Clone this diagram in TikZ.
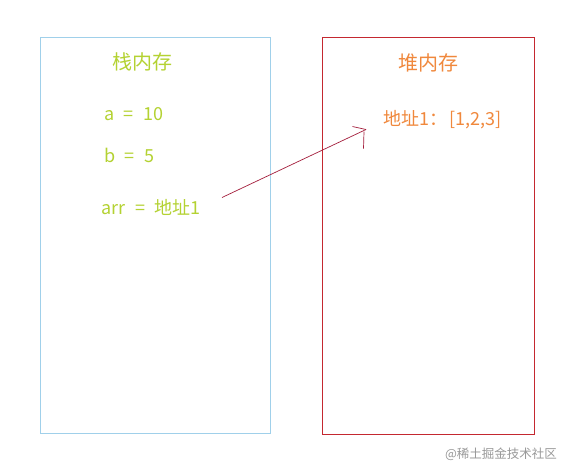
\documentclass[tikz,border=0pt]{standalone}
\usepackage{fontspec}
\setmainfont{Noto Sans CJK SC}
\usetikzlibrary{positioning}

\definecolor{stackblue}{RGB}{160,208,234}
\definecolor{heapred}{RGB}{196,40,48}
\definecolor{arrowred}{RGB}{164,30,60}
\definecolor{stackgreen}{RGB}{180,210,50}
\definecolor{heaporange}{RGB}{240,136,60}

\newcommand{\eqgap}{\hspace{9.5pt}}

\tikzset{
  title/.style={inner sep=0pt,font=\fontsize{20}{20}\selectfont},
  entry/.style={inner sep=0pt,anchor=west,font=\fontsize{18}{18}\selectfont},
}

\begin{document}
\begin{tikzpicture}[x=1pt,y=-1pt]
  \useasboundingbox[fill=white] (0, 0) rectangle (569, 475);

  \draw[stackblue,line width=0.9pt] (40.5, 37.5) rectangle (270.5, 433.5);
  \draw[heapred,line width=0.9pt] (322.5, 37.5) rectangle (534.5, 434.5);

  \node[title,color=stackgreen] (stack) at (142.5, 62) {栈内存};
  \node[title,color=heaporange] (heap) at (428, 62.5) {堆内存};

  \node[entry,color=stackgreen] (a) at (104, 114.5) {a\eqgap=\eqgap{}10};
  \node[entry,color=stackgreen] (b) at (104, 155) {b\eqgap=\eqgap{}5};
  \node[entry,color=stackgreen] (arr) at (101.5, 207.5) {arr\eqgap=\eqgap{}地址1};

  \node[entry,color=heaporange] (addr) at (383, 119.5) {地址1：\hspace{2pt}[1,2,3]};

  % Hand drawn arrow
  \coordinate (tail) at (222, 197.5);
  \coordinate (tip) at (366, 129.5);
  \draw[arrowred,line width=0.7pt] (tail) -- (tip);
  \draw[arrowred,line width=0.7pt] (352.5, 126.5) -- (tip);
  \draw[arrowred,line width=0.7pt] (364, 131.5) -- (363.5, 148.5);

  \node[gray!80,inner sep=0pt,font=\fontsize{12.5}{12.5}\selectfont]
    (mark) at (501, 454) {@稀土掘金技术社区};
\end{tikzpicture}
\end{document}
